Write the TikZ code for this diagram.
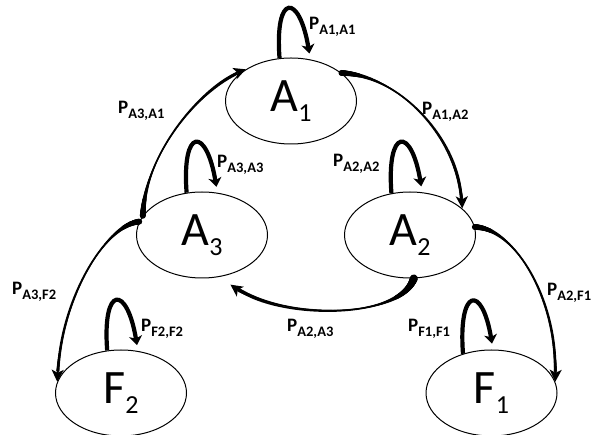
\documentclass[tikz,border=0pt]{standalone}
\usepackage{fontspec}
\setmainfont{Carlito}
\usetikzlibrary{arrows.meta,shapes.geometric,decorations.markings}
\newcommand\stlab[2]{{\fontsize{48}{48}\selectfont #1\raisebox{-10pt}{\fontsize{26}{26}\selectfont #2}}}
\newcommand\plab[1]{{\bfseries\fontsize{19}{19}\selectfont P\raisebox{-5pt}{\fontsize{14.5}{14.5}\selectfont #1}}}
\def\tapS{3}\def\tapM{0.75}\def\tapE{2}
\newcommand\taperdot{%
  \pgfmathsetmacro\tf{(\pgfkeysvalueof{/pgf/decoration/mark info/distance from start})/(\pgfdecoratedpathlength)}%
  \pgfmathsetmacro\tr{\tapM+(\tapS-\tapM)*(max(0,1-\tf/0.35))^2+(\tapE-\tapM)*(max(0,(\tf-0.6)/0.4))^2}%
  \fill (0,0) circle[radius=\tr pt];}
\tikzset{
  state/.style={ellipse, draw, line width=1pt, minimum width=131pt, minimum height=86pt, inner sep=0pt},
  selfloop/.style={line width=4.2pt, -{Stealth[length=9pt,width=13pt,inset=2.5pt]}, shorten >=6pt},
  tarrow/.style={line width=1.5pt, -{Stealth[length=12pt,width=12pt,inset=3pt]},
    postaction={decorate},
    decoration={markings, mark=between positions 0 and -12pt step 0.5pt with {\taperdot}}},
  ts/.code={\def\tapS{#1}}, te/.code={\def\tapE{#1}},
  plabel/.style={anchor=west, inner sep=0pt},
}
\begin{document}
\begin{tikzpicture}[x=1pt, y=-1pt]
\useasboundingbox (0,0) rectangle (597,435);
% states
\node[state] (A1) at (291,101) {\stlab{A}{1}};
\node[state] (A3) at (202,235) {\stlab{A}{3}};
\node[state] (A2) at (410,235) {\stlab{A}{2}};
\node[state] (F2) at (121,393) {\stlab{F}{2}};
\node[state] (F1) at (491.5,393) {\stlab{F}{1}};
% self loops
\draw[selfloop] (A1.105) .. controls +(-5,-66) and +(-11,-66) .. (A1.65);
\draw[selfloop] (A3.110) .. controls +(-5,-66) and +(-11,-66) .. (A3.70);
\draw[selfloop] (A2.114) .. controls +(-5,-66) and +(-11,-66) .. (A2.74);
\draw[selfloop] (F2.108) .. controls +(-5,-66) and +(-11,-66) .. (F2.68);
\draw[selfloop] (F1.126) .. controls +(-5,-66) and +(-11,-66) .. (F1.88);
% transitions
\draw[tarrow] (A3.162) .. controls (145,150) and (205,85) .. (A1.145);
\draw[tarrow] (A1.29) .. controls (400,75) and (460,140) .. (A2.27);
\draw[tarrow] (A2.7) .. controls (515,228) and (558,300) .. (F1.10);
\draw[tarrow] (A3.168) .. controls (105,225) and (60,300) .. (F2.170);
\path (A3.300) ++(5,9) coordinate (a3in);
\draw[tarrow, ts=4, te=2.5] (A2.275) .. controls (400,320) and (280,320) .. (a3in);
% labels
\node[plabel] (l11) at (309,26.5) {\plab{A1,A1}};
\node[plabel] (l31) at (118,111) {\plab{A3,A1}};
\node[plabel] (l33) at (217,165) {\plab{A3,A3}};
\node[plabel] (l12) at (422,111.5) {\plab{A1,A2}};
\node[plabel] (l22) at (333,163.5) {\plab{A2,A2}};
\node[plabel] (l3f) at (12,291.5) {\plab{A3,F2}};
\node[plabel] (lff2) at (141,328.5) {\plab{F2,F2}};
\node[plabel] (l2f) at (547,292.5) {\plab{A2,F1}};
\node[plabel] (lff1) at (408,328.5) {\plab{F1,F1}};
\node[plabel] (l23) at (287,328.5) {\plab{A2,A3}};
\end{tikzpicture}
\end{document}
